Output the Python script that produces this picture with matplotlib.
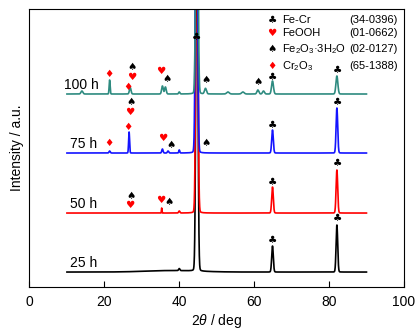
import matplotlib
matplotlib.use("Agg")
import matplotlib.pyplot as plt
import numpy as np

plt.rcParams["font.family"] = ["Liberation Sans", "DejaVu Sans"]
plt.rcParams["mathtext.fontset"] = "custom"
plt.rcParams["mathtext.rm"] = "Liberation Sans"
plt.rcParams["mathtext.it"] = "Liberation Sans:italic"

# XRD patterns: peak position (deg), height, half width
samples = ["25 h", "50 h", "75 h", "100 h"]
colors = ["black", "#ff0000", "#1414ff", "#2e8b80"]
baselines = [15, 74, 134, 193]

pos_25 = [38.0, 40.0, 44.7, 64.9, 82.1]
hgt_25 = [1.5, 2.0, 400, 26, 47]
wid_25 = [8.0, 0.2, 0.3, 0.25, 0.25]

pos_50 = [35.3, 40.0, 44.7, 64.9, 82.1]
hgt_50 = [5.0, 2.0, 400, 26, 43]
wid_50 = [0.08, 0.2, 0.3, 0.25, 0.25]

pos_75 = [21.4, 26.6, 35.5, 37.0, 40.0, 44.6, 64.9, 82.1]
hgt_75 = [2.0, 21, 4.0, 2.0, 3.0, 400, 23, 45]
wid_75 = [0.2, 0.15, 0.2, 0.2, 0.15, 0.3, 0.25, 0.25]

pos_100 = [14.0, 21.4, 26.9, 35.5, 36.3, 40.0, 44.7, 47.0, 53.0, 57.0, 61.0, 62.5, 64.9, 82.1]
hgt_100 = [3.0, 14, 6.5, 8.0, 7.0, 2.0, 400, 5.5, 2.0, 2.0, 4.0, 3.0, 13, 18]
wid_100 = [0.3, 0.15, 0.25, 0.25, 0.25, 0.2, 0.3, 0.3, 0.4, 0.4, 0.3, 0.3, 0.3, 0.3]

peaks = [(pos_25, hgt_25, wid_25), (pos_50, hgt_50, wid_50),
         (pos_75, hgt_75, wid_75), (pos_100, hgt_100, wid_100)]

# phase markers: (symbol, 2theta, height)
CLUB, HEART, SPADE, DIAMOND = "\u2663", "\u2665", "\u2660", "\u2666"
marks_25 = [(CLUB, 64.9, 47), (CLUB, 82.2, 69)]
marks_50 = [(SPADE, 27.1, 91), (HEART, 26.7, 82), (HEART, 35.0, 87),
            (SPADE, 37.3, 85), (CLUB, 64.9, 105), (CLUB, 82.2, 124)]
marks_75 = [(DIAMOND, 21.2, 144), (DIAMOND, 26.4, 160), (HEART, 26.7, 175),
            (SPADE, 27.0, 185), (HEART, 35.7, 149), (SPADE, 37.7, 142),
            (SPADE, 47.2, 144), (CLUB, 64.9, 162), (CLUB, 82.2, 185)]
marks_100 = [(DIAMOND, 21.2, 213), (DIAMOND, 26.4, 200), (HEART, 27.3, 210),
             (SPADE, 27.5, 220), (HEART, 35.1, 216), (SPADE, 36.7, 208),
             (CLUB, 44.5, 250), (SPADE, 47.2, 207), (SPADE, 61.1, 205),
             (CLUB, 64.9, 210), (CLUB, 82.2, 217)]
marks = [marks_25, marks_50, marks_75, marks_100]

mark_color = {CLUB: "black", SPADE: "black", HEART: "#ff0000", DIAMOND: "#ff0000"}

legend_syms = [CLUB, HEART, SPADE, DIAMOND]
legend_names = ["Fe-Cr", "FeOOH", "Fe$_2$O$_3$\u00b73H$_2$O", "Cr$_2$O$_3$"]
legend_cards = ["(34-0396)", "(01-0662)", "(02-0127)", "(65-1388)"]


def pattern(x, base, pos, hgt, wid):
    # mostly gaussian peaks with a small lorentzian foot
    y = np.full_like(x, base, dtype=float)
    for p, h, w in zip(pos, hgt, wid):
        u = (x - p) / w
        y += h * (0.97 * np.exp(-np.log(2) * u ** 2) + 0.03 / (1 + u ** 2))
    return y


fig = plt.figure(figsize=(4.19, 3.33), dpi=100)
ax = fig.add_axes([0.0704, 0.138, 0.8936, 0.835])

x = np.linspace(10, 90, 4001)
for name, col, base, (pos, hgt, wid), mk in zip(samples, colors, baselines, peaks, marks):
    ax.plot(x, pattern(x, base, pos, hgt, wid), color=col, lw=1.2)
    ax.text(9.2 if name == "100 h" else 10.8, base + 9, name, fontsize=10,
            ha="left", va="center")
    for sym, mx, my in mk:
        ax.text(mx, my, sym, color=mark_color[sym], fontsize=7.5,
                family=["DejaVu Sans"], ha="center", va="center")

legend_y = [267, 254, 238, 221]
for sym, nm, card, ly in zip(legend_syms, legend_names, legend_cards, legend_y):
    ax.text(64.8, ly, sym, color=mark_color[sym], fontsize=7.5,
            family=["DejaVu Sans"], ha="center", va="center")
    ax.text(67.5, ly, nm, fontsize=8, ha="left", va="center")
    ax.text(98.4, ly, card, fontsize=8, ha="right", va="center")

ax.set_xlim(0, 100)
ax.set_ylim(0, 278)
ax.set_xticks([0, 20, 40, 60, 80, 100])
ax.set_yticks([])
ax.tick_params(axis="x", direction="in", length=4, labelsize=10, pad=6)
ax.set_xlabel("2$\\mathit{\\theta}$ / deg", fontsize=10, labelpad=2)
ax.set_ylabel("Intensity / a.u.", fontsize=10, labelpad=4)

fig.savefig("out.png", dpi=100)
